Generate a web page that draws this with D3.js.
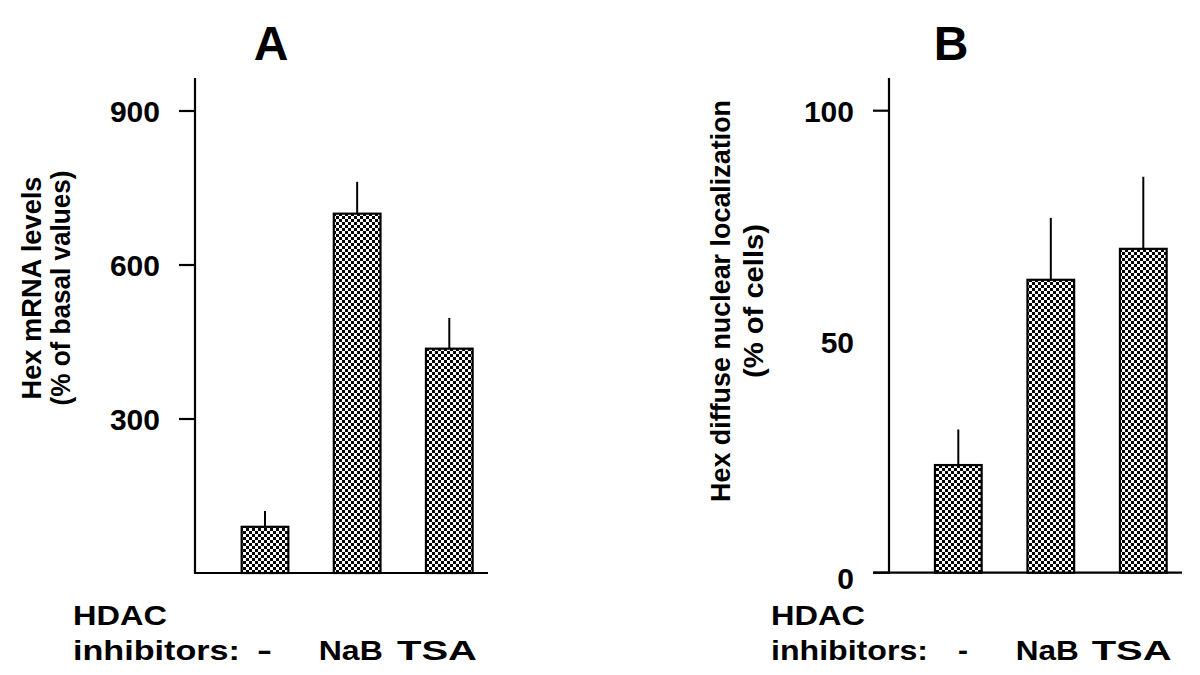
<!DOCTYPE html>
<html>
<head>
<meta charset="utf-8">
<script src="https://cdn.jsdelivr.net/npm/d3@7/dist/d3.min.js"></script>
<style>
  html, body { margin: 0; padding: 0; background: #fff; }
  svg { display: block; font-family: "Liberation Sans", Arial, Helvetica, sans-serif; font-weight: bold; }
</style>
</head>
<body>
<script>
// ---- data ----
const categories = ["-", "NaB", "TSA"];
const mrnaValues = [90, 700, 437];
const mrnaErrors = [31, 62, 60];
const mrnaTicks = [300, 600, 900];
const locValues = [23.3, 63.4, 70.1];
const locErrors = [7.7, 13.4, 15.6];
const locTicks = [0, 50, 100];
const locTickLines = [0, 100];

const W = 1200, H = 675;
const svg = d3.select("body").append("svg").attr("width", W).attr("height", H);

// checkered fill
const defs = svg.append("defs");
const pat = defs.append("pattern").attr("id", "checker")
  .attr("patternUnits", "userSpaceOnUse").attr("width", 6).attr("height", 6);
pat.append("rect").attr("width", 6).attr("height", 6).attr("fill", "#fff");
pat.append("rect").attr("width", 3).attr("height", 3).attr("fill", "#000");
pat.append("rect").attr("x", 3).attr("y", 3).attr("width", 3).attr("height", 3).attr("fill", "#000");

function panel(cfg) {
  const g = svg.append("g");
  const y = d3.scaleLinear().domain(cfg.domain).range([cfg.y0, cfg.y1]);
  const x = d3.scalePoint().domain(categories).range(cfg.barRange);
  const bw = cfg.barWidth;
  const lx = d3.scalePoint().domain(categories).range(cfg.labelRange);

  // panel letter
  g.append("text").attr("x", cfg.letterX).attr("y", 60)
    .attr("text-anchor", "middle").attr("font-size", 48).text(cfg.letter);

  // y axis line
  g.append("line").attr("x1", cfg.axisX).attr("x2", cfg.axisX)
    .attr("y1", cfg.axisTop).attr("y2", cfg.y0 + 1)
    .attr("stroke", "#000").attr("stroke-width", 2.2);
  // baseline
  g.append("line").attr("x1", cfg.baseStart).attr("x2", cfg.baseEnd)
    .attr("y1", cfg.y0).attr("y2", cfg.y0)
    .attr("stroke", "#000").attr("stroke-width", 2.2);

  // tick lines
  g.selectAll(".tk").data(cfg.tickLines).join("line")
    .attr("x1", cfg.axisX - 16).attr("x2", cfg.axisX)
    .attr("y1", d => y(d)).attr("y2", d => y(d))
    .attr("stroke", "#000").attr("stroke-width", 2.2);
  // tick labels
  g.selectAll(".tl").data(cfg.ticks).join("text")
    .attr("x", cfg.tickLabelX).attr("y", d => y(d) + 11 + (d === 0 ? 5 : 0))
    .attr("text-anchor", "end").attr("font-size", 30).text(d => d);

  // bars
  g.selectAll(".bar").data(cfg.values).join("rect")
    .attr("x", (d, i) => x(categories[i]) - bw / 2)
    .attr("y", d => y(d))
    .attr("width", bw)
    .attr("height", d => cfg.y0 - y(d))
    .attr("fill", "url(#checker)")
    .attr("stroke", "#000").attr("stroke-width", 2.2);
  // error bars
  g.selectAll(".err").data(cfg.values).join("line")
    .attr("x1", (d, i) => x(categories[i])).attr("x2", (d, i) => x(categories[i]))
    .attr("y1", d => y(d)).attr("y2", (d, i) => y(d + cfg.errors[i]))
    .attr("stroke", "#000").attr("stroke-width", 2);

  // y title (two lines, rotated)
  cfg.titles.forEach(t => {
    g.append("text")
      .attr("transform", `translate(${t.x},${cfg.titleY}) rotate(-90)`)
      .attr("text-anchor", "middle").attr("font-size", 28)
      .attr("textLength", t.len).attr("lengthAdjust", "spacingAndGlyphs")
      .text(t.text);
  });

  // x label block
  g.append("text").attr("x", cfg.hdacX).attr("y", 625).attr("font-size", 28)
    .attr("textLength", cfg.hdacLen).attr("lengthAdjust", "spacingAndGlyphs").text("HDAC");
  g.append("text").attr("x", cfg.hdacX).attr("y", 660).attr("font-size", 28)
    .attr("textLength", cfg.inhLen).attr("lengthAdjust", "spacingAndGlyphs").text("inhibitors:");
  g.selectAll(".cl").data(categories).join("text")
    .attr("x", d => lx(d) - cfg.catLens[categories.indexOf(d)] / 2)
    .attr("y", 660).attr("font-size", 28)
    .attr("textLength", (d, i) => cfg.catLens[i]).attr("lengthAdjust", "spacingAndGlyphs")
    .text(d => d);
}

panel({
  letter: "A", letterX: 271,
  domain: [0, 900], y0: 573, y1: 111,
  barRange: [265, 449.3], barWidth: 46.7,
  labelRange: [264.5, 437],
  axisX: 195, axisTop: 78, baseStart: 195, baseEnd: 488,
  tickLines: mrnaTicks, ticks: mrnaTicks, tickLabelX: 160,
  values: mrnaValues, errors: mrnaErrors,
  titleY: 288,
  titles: [{ x: 41, len: 223, text: "Hex mRNA levels" }, { x: 70, len: 235, text: "(% of basal values)" }],
  hdacX: 73, hdacLen: 94, inhLen: 167, catLens: [15, 64, 80]
});

panel({
  letter: "B", letterX: 951,
  domain: [0, 100], y0: 572.7, y1: 110.7,
  barRange: [958.3, 1143.3], barWidth: 46.7,
  labelRange: [963, 1131.7],
  axisX: 889, axisTop: 78, baseStart: 873, baseEnd: 1182,
  tickLines: locTickLines, ticks: locTicks, tickLabelX: 854,
  values: locValues, errors: locErrors,
  titleY: 301,
  titles: [{ x: 730, len: 402, text: "Hex diffuse nuclear localization" }, { x: 763, len: 154, text: "(% of cells)" }],
  hdacX: 771, hdacLen: 94, inhLen: 157, catLens: [10, 63, 80]
});
</script>
</body>
</html>
